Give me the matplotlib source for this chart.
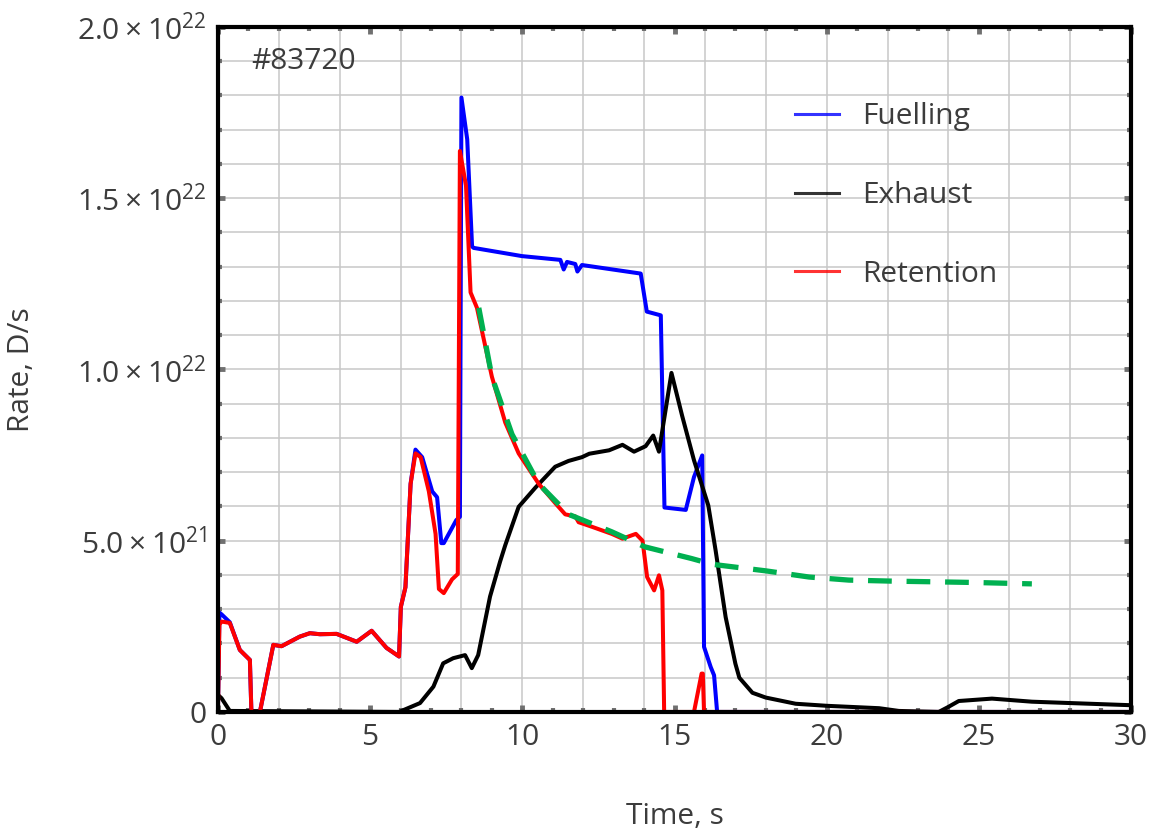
import numpy as np
import matplotlib
matplotlib.use("Agg")
import matplotlib.pyplot as plt
from matplotlib.ticker import MultipleLocator, FixedLocator

plt.rcParams['font.family'] = ['Open Sans', 'DejaVu Sans']
plt.rcParams['mathtext.fontset'] = 'custom'
plt.rcParams['mathtext.rm'] = 'Open Sans'
plt.rcParams['mathtext.it'] = 'Open Sans'

# Daten (in 1e21 D/s)
t_fuel = [0.0, 0.05, 0.12, 0.39, 0.72, 1.05, 1.1, 1.38, 1.82, 2.09, 2.69, 3.02, 3.35, 3.9,
          4.56, 5.05, 5.54, 5.95, 6.01, 6.16, 6.33, 6.49, 6.71, 7.04, 7.2, 7.34, 7.42, 7.83,
          7.95, 8.0, 8.19, 8.35, 8.4, 9.99, 11.25, 11.36, 11.47, 11.74, 11.81, 11.96, 13.89,
          14.09, 14.55, 14.67, 15.37, 15.64, 15.91, 15.97, 16.19, 16.3, 16.4, 30.0]
v_fuel = [0.0, 2.9, 2.85, 2.62, 1.81, 1.52, 0.0, 0.0, 1.96, 1.92, 2.2, 2.3, 2.27, 2.28,
          2.05, 2.37, 1.87, 1.62, 3.07, 3.64, 6.66, 7.66, 7.44, 6.44, 6.27, 4.93, 4.93, 5.6,
          5.7, 17.94, 16.72, 13.59, 13.55, 13.31, 13.2, 12.92, 13.14, 13.08, 12.86, 13.05, 12.8,
          11.69, 11.58, 5.97, 5.9, 6.86, 7.49, 1.9, 1.31, 1.07, 0.0, 0.0]

t_exh = [0.0, 0.12, 0.39, 5.95, 6.64, 7.08, 7.4, 7.73, 8.12, 8.34, 8.55, 8.94, 9.27, 9.44,
         9.88, 10.43, 11.08, 11.52, 11.96, 12.2, 12.85, 13.29, 13.67, 14.05, 14.3, 14.49,
         14.9, 15.25, 15.64, 16.11, 16.35, 16.68, 17.0, 17.13, 17.56, 18.0, 18.98, 20.0,
         21.72, 22.37, 23.68, 23.96, 24.34, 25.43, 26.74, 29.9, 30.0]
v_exh = [0.5, 0.4, 0.03, 0.0, 0.26, 0.74, 1.42, 1.57, 1.66, 1.28, 1.66, 3.37, 4.39, 4.87,
         5.99, 6.55, 7.16, 7.33, 7.44, 7.54, 7.64, 7.8, 7.6, 7.76, 8.07, 7.6,
         9.9, 8.65, 7.35, 6.03, 4.72, 2.77, 1.41, 1.0, 0.56, 0.42, 0.24, 0.18,
         0.11, 0.03, 0.0, 0.13, 0.32, 0.39, 0.3, 0.2, 0.2]

t_ret = [0.0, 0.05, 0.12, 0.39, 0.72, 1.05, 1.1, 1.38, 1.82, 2.09, 2.69, 3.02, 3.35, 3.9,
         4.56, 5.05, 5.54, 5.95, 6.01, 6.16, 6.33, 6.49, 6.66, 6.93, 7.15, 7.26, 7.42, 7.69,
         7.88, 7.95, 8.15, 8.3, 8.51, 9.0, 9.44, 9.88, 10.54, 11.08, 11.41, 11.74, 11.85,
         12.31, 12.94, 13.29, 13.73, 13.95, 14.1, 14.33, 14.49, 14.6, 14.66, 15.64, 15.89,
         15.93, 15.97, 30.0]
v_ret = [0.0, 2.55, 2.64, 2.6, 1.81, 1.52, 0.0, 0.0, 1.96, 1.92, 2.2, 2.3, 2.27, 2.28,
         2.05, 2.37, 1.87, 1.62, 3.07, 3.64, 6.66, 7.55, 7.44, 6.44, 5.2, 3.59, 3.47, 3.87,
         4.03, 16.38, 15.37, 12.25, 11.8, 9.79, 8.45, 7.55, 6.66, 6.1, 5.77, 5.71, 5.54,
         5.4, 5.2, 5.06, 5.2, 5.0, 3.94, 3.55, 3.99, 3.55, 0.0, 0.0, 1.12,
         1.12, 0.0, 0.0]

t_fit = [8.57, 9.0, 9.66, 10.54, 11.52, 12.94, 14.03, 15.56, 16.25, 18.0, 19.42, 20.73,
         22.15, 23.57, 24.89, 26.74]
v_fit = [11.8, 9.79, 8.11, 6.66, 5.77, 5.26, 4.82, 4.48, 4.31, 4.12, 3.94, 3.85,
         3.82, 3.8, 3.78, 3.74]

x_ticks = [0, 5, 10, 15, 20, 25, 30]
y_ticks = [0, 5e21, 1e22, 1.5e22, 2e22]
y_ticklabels = ['0', r'$5.0\times10^{21}$', r'$1.0\times10^{22}$', r'$1.5\times10^{22}$',
                r'$2.0\times10^{22}$']

textfarbe = '#3c3c3c'
skala = 1e21

fig = plt.figure(figsize=(11.53, 8.33), dpi=100)
ax = fig.add_axes([0.189, 0.1453, 0.792, 0.8223])

ax.plot(t_fuel, np.array(v_fuel) * skala, color='#0000ff', lw=2.9, label='Fuelling', zorder=3)
ax.plot(t_exh, np.array(v_exh) * skala, color='black', lw=2.9, label='Exhaust', zorder=4)
ax.plot(t_ret, np.array(v_ret) * skala, color='#ff0000', lw=2.9, label='Retention', zorder=5)
ax.plot(t_fit, np.array(v_fit) * skala, color='#00b050', lw=3.8, dashes=(4.5, 2.8),
        zorder=6)

ax.set_xlim(0, 30)
ax.set_ylim(0, 2e22)

# Gitter: senkrecht alle 2 s, waagerecht alle 1e21
for gx in np.arange(2, 30, 2):
    ax.axvline(gx, color='#c8c8c8', lw=1.1, zorder=1)
for gy in np.arange(1, 20) * skala:
    ax.axhline(gy, color='#c8c8c8', lw=1.1, zorder=1)

ax.xaxis.set_major_locator(FixedLocator(x_ticks))
ax.xaxis.set_minor_locator(MultipleLocator(1))
ax.yaxis.set_major_locator(FixedLocator(y_ticks))
ax.yaxis.set_minor_locator(MultipleLocator(1e21))
ax.set_yticklabels(y_ticklabels)
ax.set_xticklabels([str(x) for x in x_ticks])

ax.tick_params(which='both', direction='in', top=True, right=True, color='#707070')
ax.tick_params(which='major', length=5, width=3.5, labelsize=21.5, labelcolor=textfarbe, pad=8)
ax.tick_params(which='minor', length=3, width=3)

for s in ax.spines.values():
    s.set_linewidth(3)
    s.set_color('black')
    s.set_zorder(7)

ax.set_xlabel('Time, s', fontsize=21.5, color=textfarbe, labelpad=36)
ax.set_ylabel('Rate, D/s', fontsize=21.5, color=textfarbe, labelpad=30)

ax.text(1.1, 1.9e22, '#83720', fontsize=21.5, color=textfarbe, va='center', ha='left')

leg = ax.legend(loc='upper left', bbox_to_anchor=(0.602, 0.929), frameon=False, fontsize=21.5,
                handlelength=1.5, handletextpad=0.75, labelspacing=1.66,
                labelcolor=textfarbe)
for h in leg.legend_handles:
    h.set_linewidth(2.2)
    h.set_alpha(0.8)

fig.savefig('out.png', dpi=100)
